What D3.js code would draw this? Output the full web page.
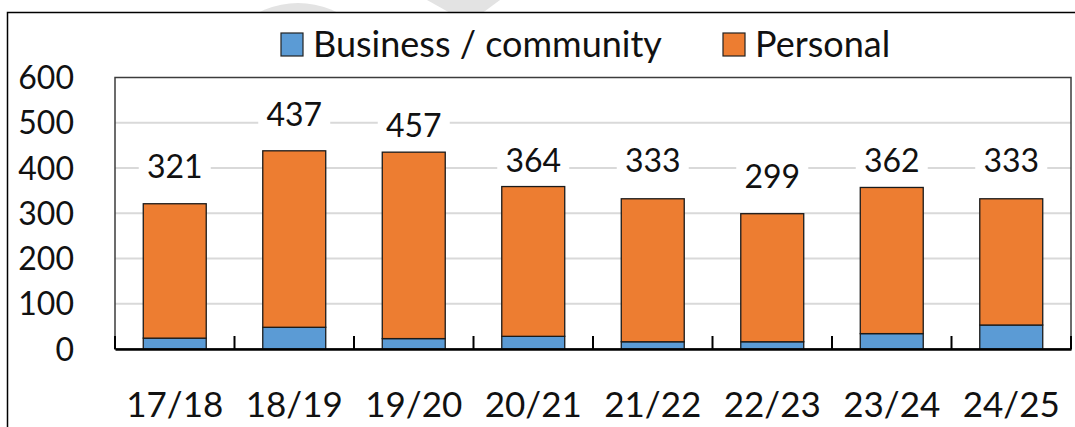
<!DOCTYPE html>
<html>
<head>
<meta charset="utf-8">
<script src="https://cdn.jsdelivr.net/npm/d3@7"></script>
<style>
  body { margin: 0; background: #fff; }
  text { font-family: Lato, "Open Sans", sans-serif; fill: #111; }
</style>
</head>
<body>
<div id="chart"></div>
<script>
// data
var years = ["17/18", "18/19", "19/20", "20/21", "21/22", "22/23", "23/24", "24/25"];
var business = [24, 48, 23, 28, 16, 16, 34, 53];
var personal = [297, 390, 412, 331, 316, 283, 323, 279];
// labels as printed (they don't quite match the bars in the source)
var labels = ["321", "437", "457", "364", "333", "299", "362", "333"];
// where each label baseline sits, in axis units
var labelAt = [378, 493, 469, 391, 391, 356, 391, 391];
var yTicks = [0, 100, 200, 300, 400, 500, 600];
var seriesNames = ["Business / community", "Personal"];
var colors = ["#5B9BD5", "#ED7D31"];

var W = 1075, H = 427;
var plot = { left: 115, right: 1071, top: 77.5, bottom: 349 };

var svg = d3.select("#chart").append("svg")
    .attr("width", W)
    .attr("height", H);

// faint watermark bits peeking above the chart frame
svg.append("ellipse")
    .attr("cx", 298).attr("cy", 88).attr("rx", 86).attr("ry", 85)
    .attr("fill", "#e3e3e3");
svg.append("polygon")
    .attr("points", "427,0 500,0 481,14 452,14")
    .attr("fill", "#e3e3e3");

// chart frame (only left + top edges are in the crop)
svg.append("rect")
    .attr("x", 7.5).attr("y", 12.5).attr("width", W).attr("height", H)
    .attr("fill", "#fff").attr("stroke", "#000").attr("stroke-width", 1.5);

var x = d3.scaleBand().domain(years)
    .range([plot.left, plot.right])
    .paddingInner(0.473).paddingOuter(0.2365);
var y = d3.scaleLinear().domain([0, 600]).range([plot.bottom, plot.top]);

// gridlines
svg.append("g")
    .selectAll("line")
    .data(yTicks.filter(function(d) { return d > 0 && d < 600; }))
    .enter().append("line")
    .attr("x1", plot.left).attr("x2", plot.right)
    .attr("y1", function(d) { return y(d); })
    .attr("y2", function(d) { return y(d); })
    .attr("stroke", "#d9d9d9").attr("stroke-width", 2);

// plot area border
svg.append("rect")
    .attr("x", plot.left).attr("y", plot.top)
    .attr("width", plot.right - plot.left).attr("height", plot.bottom - plot.top)
    .attr("fill", "none").attr("stroke", "#3c3c3c").attr("stroke-width", 1.5);

// stacked bars
var rows = years.map(function(yr, i) { return { year: yr, b: business[i], p: personal[i] }; });
var stack = d3.stack().keys(["b", "p"])(rows);

svg.append("g")
    .selectAll("g")
    .data(stack)
    .enter().append("g")
    .attr("fill", function(d, i) { return colors[i]; })
    .selectAll("rect")
    .data(function(d) { return d; })
    .enter().append("rect")
    .attr("x", function(d) { return x(d.data.year); })
    .attr("y", function(d) { return y(d[1]); })
    .attr("width", x.bandwidth())
    .attr("height", function(d) { return y(d[0]) - y(d[1]); })
    .attr("stroke", "#1a1a1a").attr("stroke-width", 1.3);

// baseline + category ticks
var xAxis = svg.append("g")
    .attr("transform", "translate(0," + plot.bottom + ")")
    .call(d3.axisBottom(x).tickSize(0).tickFormat(""));
xAxis.select(".domain").attr("stroke", "#000").attr("stroke-width", 2.5);

var bounds = d3.range(years.length + 1).map(function(i) { return plot.left + i * x.step(); });
svg.append("g")
    .selectAll("line")
    .data(bounds)
    .enter().append("line")
    .attr("x1", function(d) { return d; }).attr("x2", function(d) { return d; })
    .attr("y1", plot.bottom).attr("y2", plot.bottom - 13)
    .attr("stroke", "#000").attr("stroke-width", 2);

// x labels
svg.append("g")
    .selectAll("text")
    .data(years)
    .enter().append("text")
    .attr("x", function(d) { return x(d) + x.bandwidth() / 2; })
    .attr("y", 417)
    .attr("text-anchor", "middle")
    .style("font-size", "35px")
    .text(function(d) { return d; });

// y labels
svg.append("g")
    .selectAll("text")
    .data(yTicks)
    .enter().append("text")
    .attr("x", 74)
    .attr("y", function(d) { return y(d); })
    .attr("dy", "0.36em")
    .attr("text-anchor", "end")
    .style("font-size", "32px")
    .text(function(d) { return d; });

// data labels on white patches
var lab = svg.append("g")
    .selectAll("g")
    .data(labels)
    .enter().append("g")
    .attr("transform", function(d, i) {
        return "translate(" + (x(years[i]) + x.bandwidth() / 2) + "," + y(labelAt[i]) + ")";
    });
lab.append("rect")
    .attr("x", -36).attr("y", -28).attr("width", 72).attr("height", 32)
    .attr("fill", "#fff");
lab.append("text")
    .attr("text-anchor", "middle")
    .style("font-size", "32px")
    .text(function(d) { return d; });

// legend
var legendX = [281, 723];
var leg = svg.append("g")
    .selectAll("g")
    .data(seriesNames)
    .enter().append("g")
    .attr("transform", function(d, i) { return "translate(" + legendX[i] + ",33)"; });
leg.append("rect")
    .attr("width", 22).attr("height", 23)
    .attr("fill", function(d, i) { return colors[i]; })
    .attr("stroke", "#222").attr("stroke-width", 1.2);
leg.append("text")
    .attr("x", function(d, i) { return i === 0 ? 32 : 32; })
    .attr("y", 24)
    .style("font-size", "36px")
    .text(function(d) { return d; });
</script>
</body>
</html>
